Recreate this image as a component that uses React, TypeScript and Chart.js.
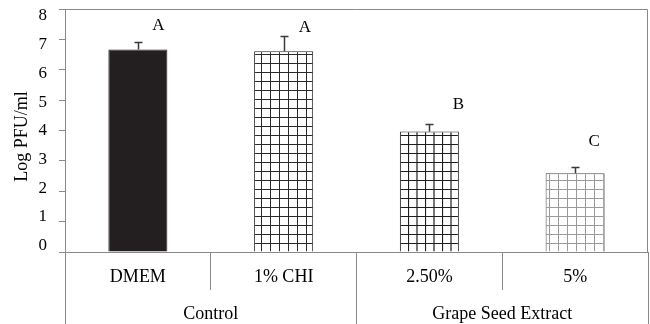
import { useEffect, useRef } from "react";
import { Chart, registerables } from "chart.js";

Chart.register(...registerables);

const categories = ["DMEM", "1% CHI", "2.50%", "5%"];
const groups = ["Control", "Grape Seed Extract"];
const values = [6.67, 6.61, 3.97, 2.59];
const errors = [0.23, 0.5, 0.25, 0.2];
const letters = ["A", "A", "B", "C"];
const letterLevels = [7.45, 7.38, 4.87, 3.65];
const letterShift = [0.14, 0.146, 0.2, 0.13];
const yMin = 0;
const yMax = 8;
const yStep = 1;
const yTickLabels = [0, 1, 2, 3, 4, 5, 6, 7, 8];
// the printed tick labels sit on a slightly compressed scale in the original
const labelAxisMin = -0.227;
const labelAxisMax = 8.244;
const yTitle = "Log PFU/ml";

const FONT = "'Liberation Serif', 'Times New Roman', serif";
const AXIS = "#898989";

function makeGrid(w: number, h: number, lines: number[], cols: number[], color: string, lw: number) {
  const c = document.createElement("canvas");
  c.width = w;
  c.height = h;
  const g = c.getContext("2d")!;
  g.fillStyle = "#ffffff";
  g.fillRect(0, 0, w, h);
  g.strokeStyle = color;
  g.lineWidth = lw;
  g.beginPath();
  cols.forEach((x) => {
    g.moveTo(x, 0);
    g.lineTo(x, h);
  });
  lines.forEach((y) => {
    g.moveTo(0, y);
    g.lineTo(w, y);
  });
  g.stroke();
  return g.createPattern(c, "repeat")!;
}

const annotPlugin = {
  id: "annot",
  afterDatasetsDraw(chart: any) {
    const { ctx, chartArea: a, scales } = chart;
    const x = scales.x;
    const y = scales.y;
    ctx.save();
    ctx.strokeStyle = AXIS;
    ctx.lineWidth = 1;
    ctx.beginPath();
    ctx.moveTo(a.left, a.top + 0.5);
    ctx.lineTo(a.right - 0.5, a.top + 0.5);
    ctx.lineTo(a.right - 0.5, a.bottom);
    ctx.stroke();

    ctx.strokeStyle = "#3a3a3a";
    ctx.lineWidth = 1.5;
    values.forEach((v, i) => {
      const px = Math.round(x.getPixelForValue(i)) + 0.5;
      const y0 = y.getPixelForValue(v);
      const y1 = Math.round(y.getPixelForValue(v + errors[i])) + 0.5;
      ctx.beginPath();
      ctx.moveTo(px, y0);
      ctx.lineTo(px, y1);
      ctx.moveTo(px - 4, y1);
      ctx.lineTo(px + 4, y1);
      ctx.stroke();
    });

    ctx.fillStyle = "#000";
    ctx.font = `17px ${FONT}`;
    ctx.textAlign = "center";
    ctx.textBaseline = "middle";
    letters.forEach((t, i) => {
      ctx.fillText(t, x.getPixelForValue(i + letterShift[i]), y.getPixelForValue(letterLevels[i]));
    });

    ctx.font = `18px ${FONT}`;
    ctx.translate(22, (a.top + a.bottom) / 2 + 6);
    ctx.rotate(-Math.PI / 2);
    ctx.fillText(yTitle, 0, 0);
    ctx.restore();
  },
};

export default function App() {
  const ref = useRef<HTMLCanvasElement>(null);

  useEffect(() => {
    const canvas = ref.current!;
    const pChi = makeGrid(9, 9, [0.5], [0.5], "#2a2a2a", 1);
    const p25 = makeGrid(17, 9, [0.5], [0.5, 9], "#1e1e1e", 1.2);
    const p5 = makeGrid(9, 9, [0.5], [0.5], "#9a9a9a", 1);

    const chart = new Chart(canvas, {
      type: "bar",
      data: {
        labels: categories,
        datasets: [
          {
            data: values,
            backgroundColor: ["#231f20", pChi, p25, p5] as any,
            borderColor: ["#231f20", "#2a2a2a", "#2a2a2a", "#4a4a4a"],
            borderWidth: 1,
            categoryPercentage: 1,
            barPercentage: 0.405,
          },
        ],
      },
      options: {
        responsive: true,
        maintainAspectRatio: false,
        animation: false,
        layout: { padding: { top: 0, right: 2, left: 0, bottom: 0 } },
        plugins: {
          legend: { display: false },
          tooltip: { enabled: false },
          title: { display: false },
        },
        scales: {
          x: {
            type: "category",
            position: "bottom",
            offset: true,
            grid: {
              offset: true,
              drawOnChartArea: false,
              drawTicks: true,
              tickLength: 38,
              color: AXIS,
            },
            border: { display: true, color: AXIS },
            ticks: {
              color: "#000",
              font: { family: FONT, size: 18 },
              padding: -24,
              maxRotation: 0,
              autoSkip: false,
            },
            afterFit: (s: any) => {
              s.height = 38;
            },
          },
          x2: {
            type: "category",
            position: "bottom",
            labels: groups,
            offset: true,
            grid: {
              offset: true,
              drawOnChartArea: false,
              drawTicks: true,
              tickLength: 34,
              color: AXIS,
            },
            border: { display: false },
            ticks: {
              color: "#000",
              font: { family: FONT, size: 18 },
              padding: -20.5,
              maxRotation: 0,
              autoSkip: false,
            },
            afterFit: (s: any) => {
              s.height = 34;
            },
          },
          y: {
            position: "left",
            weight: 0,
            min: yMin,
            max: yMax,
            ticks: { stepSize: yStep, display: false },
            grid: {
              drawOnChartArea: false,
              drawTicks: true,
              tickLength: 6,
              color: AXIS,
            },
            border: { display: true, color: AXIS },
            title: { display: false },
            afterFit: (s: any) => {
              s.width = 6;
              s.paddingTop = 9;
              s.paddingBottom = 0;
            },
          },
          yl: {
            position: "left",
            weight: 1,
            min: labelAxisMin,
            max: labelAxisMax,
            afterBuildTicks: (s: any) => {
              s.ticks = yTickLabels.map((v) => ({ value: v }));
            },
            ticks: {
              color: "#000",
              font: { family: FONT, size: 17 },
              padding: 12,
              autoSkip: false,
            },
            grid: { display: false, drawTicks: false, drawOnChartArea: false },
            border: { display: false },
            afterFit: (s: any) => {
              s.width = 59;
              s.paddingTop = 9;
              s.paddingBottom = 0;
            },
          },
        },
      },
      plugins: [annotPlugin],
    });
    return () => chart.destroy();
  }, []);

  return (
    <div style={{ position: "fixed", left: 0, top: 0, width: 650, height: 324, background: "#fff" }}>
      <canvas ref={ref} />
    </div>
  );
}
